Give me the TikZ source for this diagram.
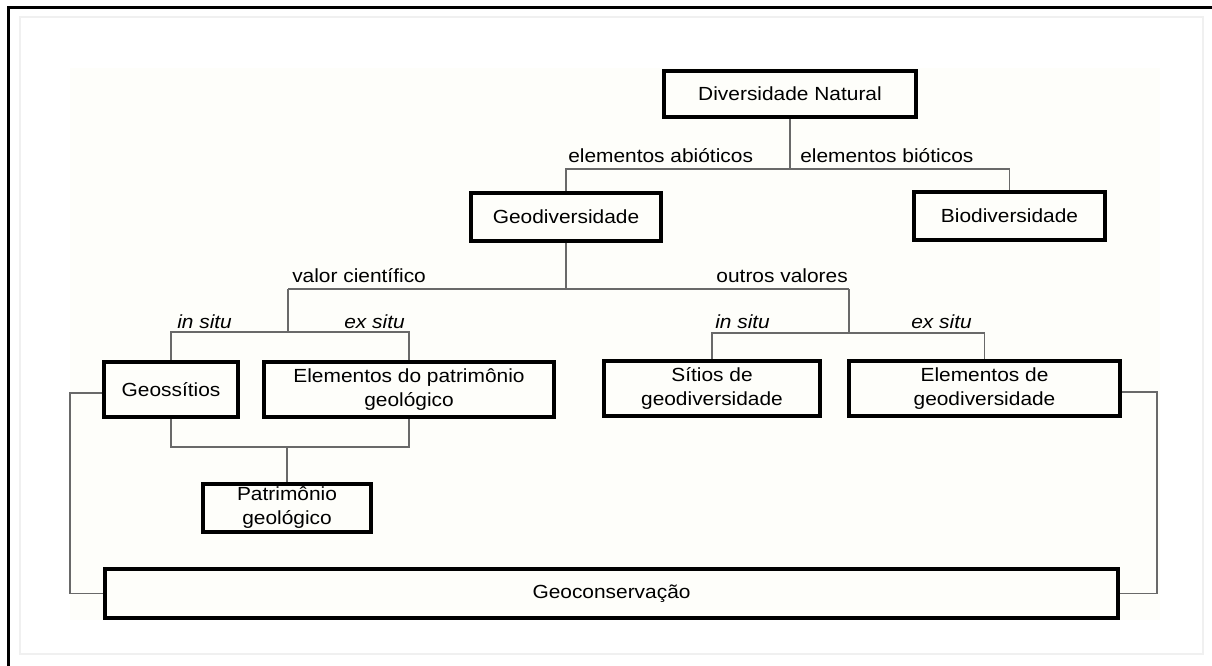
\documentclass[tikz,border=0pt]{standalone}
\usepackage{fontspec}
\setmainfont[FakeStretch=1.1]{Liberation Sans}
\usetikzlibrary{backgrounds}
\definecolor{cream}{RGB}{254,254,250}
\definecolor{linkgray}{RGB}{105,105,105}
\definecolor{faint}{RGB}{240,240,240}
\newcommand\dfont{\fontsize{14.25pt}{18pt}\selectfont}
\begin{document}
\begin{tikzpicture}[x=0.75pt,y=-0.75pt,
  box/.style={draw=black, line width=3pt, fill=cream, align=center, inner sep=0pt, font=\dfont},
  sz/.style 2 args={minimum width=#1*0.75pt, minimum height=#2*0.75pt},
  link/.style={draw=linkgray, line width=1.1pt},
  lbl/.style={inner sep=0pt, font=\dfont},
  ilbl/.style={inner sep=0pt, font=\dfont\itshape}]
\useasboundingbox (0,0) rectangle (1212,666);

% boxes
\node[box, sz={252}{46}] (dn) at (790,94) {Diversidade Natural};
\node[box, sz={190}{48}] (geo) at (566,217) {Geodiversidade};
\node[box, sz={191}{48}] (bio) at (1009.5,216) {Biodiversidade};
\node[box, sz={134}{55}] (gsit) at (171,389.5) {Geossítios};
\node[box, sz={290}{55}] (epat) at (409,389.5) {Elementos do patrimônio\\geológico};
\node[box, sz={216}{55}] (sit) at (712,388.5) {Sítios de\\geodiversidade};
\node[box, sz={271}{55}] (egeo) at (984.5,388.5) {Elementos de\\geodiversidade};
\node[box, sz={168}{48}] (pat) at (287,508) {Patrimônio\\geológico};
\node[box, sz={1013}{49}] (gcons) at (611.5,593.5) {Geoconservação};

% labels
\node[lbl, anchor=base west] (l1) at (568,163) {elementos abióticos};
\node[lbl, anchor=base west] (l2) at (800,163) {elementos bióticos};
\node[lbl, anchor=base west] (l3) at (292,283) {valor científico};
\node[lbl, anchor=base east] (l4) at (848,283) {outros valores};
\node[ilbl, anchor=base west] (l5) at (177,328) {in situ};
\node[ilbl, anchor=base east] (l6) at (405,328) {ex situ};
\node[ilbl, anchor=base west] (l7) at (715,328) {in situ};
\node[ilbl, anchor=base east] (l8) at (972,328) {ex situ};

% junctions
\coordinate (j1) at (790,169);
\coordinate (j2) at (566,289);
\coordinate (vc) at (288,289);
\coordinate (ov) at (849,289);
\coordinate (j3) at (288,332);
\coordinate (j4) at (849,333);
\coordinate (j5) at (287,447);
\coordinate (lft) at (70,393);
\coordinate (rgt) at (1157,392);

\begin{pgfonlayer}{background}
\fill[white] (0,0) rectangle (1212,666);
\draw[faint, line width=0.8pt] (20,17) rectangle (1203,654);
\fill[cream] (70,68) rectangle (1160,620);
\draw[line width=2pt] (8.5,666) -- (8.5,7.5) -- (1212,7.5);

\draw[link] (dn.south) -- (j1);
\draw[link] (geo.north) |- (j1) -| (bio.north);
\draw[link] (geo.south) -- (j2);
\draw[link] (vc) -- (ov);
\draw[link] (vc) -- (j3);
\draw[link] (gsit.north) |- (j3) -| (epat.north);
\draw[link] (ov) -- (j4);
\draw[link] (sit.north) |- (j4) -| (egeo.north);
\draw[link] (gsit.south) |- (j5) -| (epat.south);
\draw[link] (j5) -- (pat.north);
\draw[link] (gsit.west |- lft) -- (lft) |- (gcons.west);
\draw[link] (egeo.east |- rgt) -- (rgt) |- (gcons.east);
\end{pgfonlayer}
\end{tikzpicture}
\end{document}
